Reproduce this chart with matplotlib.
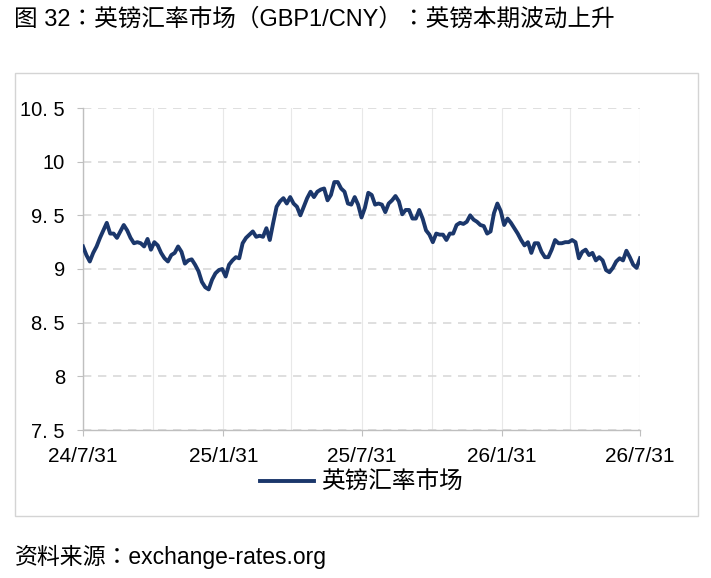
import pandas as pd
import matplotlib.pyplot as plt
import matplotlib.dates as mdates
from matplotlib.patches import Rectangle

plt.rcParams['font.family'] = ['Liberation Sans', 'Noto Sans CJK JP', 'DejaVu Sans']

# Data
start_date = "2024-07-31"
end_date = "2026-07-31"

gbp_cny = [
    9.21, 9.13, 9.07, 9.15, 9.21, 9.29, 9.36, 9.43, 9.33, 9.33,
    9.29, 9.35, 9.41, 9.36, 9.29, 9.24, 9.25, 9.24, 9.21, 9.28,
    9.18, 9.25, 9.22, 9.15, 9.10, 9.07, 9.13, 9.15, 9.21, 9.16,
    9.05, 9.08, 9.09, 9.04, 8.98, 8.88, 8.83, 8.81, 8.90, 8.96,
    8.99, 9.00, 8.93, 9.04, 9.08, 9.11, 9.10, 9.24, 9.29, 9.32,
    9.35, 9.30, 9.31, 9.30, 9.38, 9.27, 9.43, 9.58, 9.63, 9.66,
    9.61, 9.67, 9.61, 9.58, 9.50, 9.58, 9.66, 9.72, 9.67, 9.72,
    9.74, 9.75, 9.64, 9.69, 9.81, 9.81, 9.75, 9.72, 9.61, 9.60,
    9.67, 9.60, 9.48, 9.57, 9.71, 9.69, 9.60, 9.61, 9.60, 9.53,
    9.61, 9.64, 9.68, 9.63, 9.51, 9.55, 9.55, 9.47, 9.47, 9.55,
    9.47, 9.36, 9.32, 9.25, 9.33, 9.32, 9.32, 9.27, 9.33, 9.33,
    9.41, 9.43, 9.42, 9.44, 9.50, 9.46, 9.44, 9.41, 9.40, 9.33,
    9.35, 9.52, 9.61, 9.54, 9.41, 9.47, 9.43, 9.38, 9.33, 9.27,
    9.22, 9.25, 9.15, 9.24, 9.24, 9.16, 9.11, 9.11, 9.18, 9.27,
    9.24, 9.24, 9.25, 9.25, 9.27, 9.25, 9.10, 9.16, 9.18, 9.13,
    9.15, 9.08, 9.11, 9.08, 8.99, 8.97, 9.01, 9.07, 9.10, 9.08,
    9.17, 9.11, 9.04, 9.01, 9.10,
]

x_major = ["2024-07-31", "2025-01-31", "2025-07-31", "2026-01-31", "2026-07-31"]
x_labels = ["24/7/31", "25/1/31", "25/7/31", "26/1/31", "26/7/31"]
x_minor = ["2024-10-31", "2025-04-30", "2025-10-31", "2026-04-30"]

y_ticks = [7.5, 8, 8.5, 9, 9.5, 10, 10.5]
y_labels = ["7. 5", "8", "8. 5", "9", "9. 5", "10", "10. 5"]

title = "图 32：英镑汇率市场（GBP1/CNY）：英镑本期波动上升"
series_name = "英镑汇率市场"
source = "资料来源：exchange-rates.org"

dates = pd.date_range(start_date, end_date, periods=len(gbp_cny))

# Figure
W, H = 711, 578
fig = plt.figure(figsize=(W / 100, H / 100), dpi=100)

fig.patches.append(Rectangle((15 / W, 1 - 516 / H), 683 / W, 443 / H,
                             transform=fig.transFigure, fill=False,
                             edgecolor="#D4D4D4", linewidth=1.0))

ax = fig.add_axes([83 / W, 1 - 430 / H, 557 / W, 322 / H])
ax.plot(dates, gbp_cny, color="#1B376B", linewidth=2.8, label=series_name,
        solid_joinstyle="round", zorder=3)

ax.set_xlim(pd.Timestamp(start_date), pd.Timestamp(end_date))
ax.set_ylim(7.5, 10.5)

ax.set_xticks(pd.to_datetime(x_major))
ax.set_xticklabels(x_labels)
ax.set_xticks(pd.to_datetime(x_minor), minor=True)
ax.set_yticks(y_ticks)
ax.set_yticklabels(y_labels)

ax.tick_params(axis="x", which="major", length=4, width=0.8, color="#BFBFBF",
               labelsize=15, pad=8)
ax.tick_params(axis="x", which="minor", length=0)
ax.tick_params(axis="y", length=4, width=0.8, color="#BFBFBF",
               labelsize=14.5, pad=9)

ax.xaxis.grid(True, which="both", color="#E8E8E8", linewidth=0.8)
ax.yaxis.grid(True, color="#D9D9D9", linewidth=1.2, linestyle=(0, (5, 4)))
ax.set_axisbelow(True)

for side in ["top", "right"]:
    ax.spines[side].set_visible(False)
for side in ["left", "bottom"]:
    ax.spines[side].set_color("#BFBFBF")
    ax.spines[side].set_linewidth(1.0)

ax.legend(loc="center", bbox_to_anchor=(0.5, -0.165), frameon=False,
          fontsize=17, handlelength=2.3, handletextpad=0.3)

fig.text(14 / W, 1 - 19.5 / H, title, fontsize=17, va="center", ha="left")
fig.text(15 / W, 1 - 557 / H, source, fontsize=16.5, va="center", ha="left")

fig.savefig("out.png", dpi=100, facecolor="white")
